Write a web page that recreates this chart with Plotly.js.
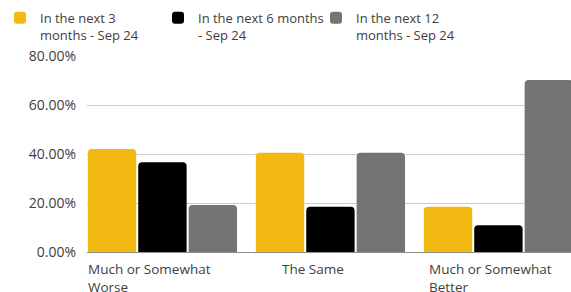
<!DOCTYPE html>
<html>
<head>
<meta charset="utf-8">
<script src="https://cdn.plot.ly/plotly-3.0.1.min.js"></script>
<style>html,body{margin:0;padding:0;overflow:hidden;background:#fff}</style>
</head>
<body>
<div id="chart" style="width:571px;height:292px"></div>
<script>
const categories = ["Much or Somewhat Worse", "The Same", "Much or Somewhat Better"];
const categoryLabels = ["Much or Somewhat<br>Worse", "The Same", "Much or Somewhat<br>Better"];
const seriesNames = ["In the next 3<br>months - Sep 24", "In the next 6 months<br>- Sep 24", "In the next 12<br>months - Sep 24"];
const next3Months = [0.420, 0.405, 0.185];
const next6Months = [0.366, 0.185, 0.109];
const next12Months = [0.192, 0.405, 0.702];
const yTicks = [0, 0.2, 0.4, 0.6, 0.8];

const colors = ["#F2B913", "#000000", "#747474"];
const allSeries = [next3Months, next6Months, next12Months];
const traces = allSeries.map((vals, i) => ({
  type: "bar",
  name: seriesNames[i],
  x: categories,
  y: vals,
  marker: {color: colors[i], cornerradius: 4, line: {width: 0}},
  hoverinfo: "skip"
}));

const labelShift = [-76, -50, -71];
const annotations = categories.map((c, i) => ({
  x: c, xref: "x", y: 0, yref: "paper",
  text: categoryLabels[i], showarrow: false,
  xanchor: "left", yanchor: "top", align: "left",
  xshift: labelShift[i], yshift: -6,
  font: {family: "Open Sans, sans-serif", size: 13.5, color: "#404040"}
}));

const layout = {
  width: 571, height: 292,
  margin: {l: 87, r: 0, t: 56, b: 40, autoexpand: false},
  paper_bgcolor: "#fff", plot_bgcolor: "#fff",
  font: {family: "Open Sans, sans-serif", size: 13, color: "#404040"},
  barmode: "group", bargap: 0.1, bargroupgap: 0.04,
  showlegend: true,
  legend: {
    orientation: "h", xref: "container", yref: "container",
    x: 0, y: 0.99, xanchor: "left", yanchor: "top",
    bgcolor: "rgba(0,0,0,0)",
    valign: "top", entrywidth: 113, entrywidthmode: "pixels",
    font: {family: "Open Sans, sans-serif", size: 13, color: "#404040"},
    traceorder: "normal", itemclick: false
  },
  xaxis: {
    type: "category", range: [-0.449, 2.432],
    showticklabels: false, showgrid: false, zeroline: false,
    showline: true, linecolor: "#8c8c8c", linewidth: 1, ticks: ""
  },
  yaxis: {
    range: [0, 0.8], tickvals: yTicks, tickformat: ".2%",
    showgrid: true, gridcolor: "#cccccc", gridwidth: 1,
    zeroline: false, showline: false, ticks: "",
    ticklabelstandoff: 10,
    tickfont: {family: "Open Sans, sans-serif", size: 14, color: "#404040"}
  },
  annotations: annotations
};

Plotly.newPlot("chart", traces, layout, {displayModeBar: false, staticPlot: true});
</script>
</body>
</html>
